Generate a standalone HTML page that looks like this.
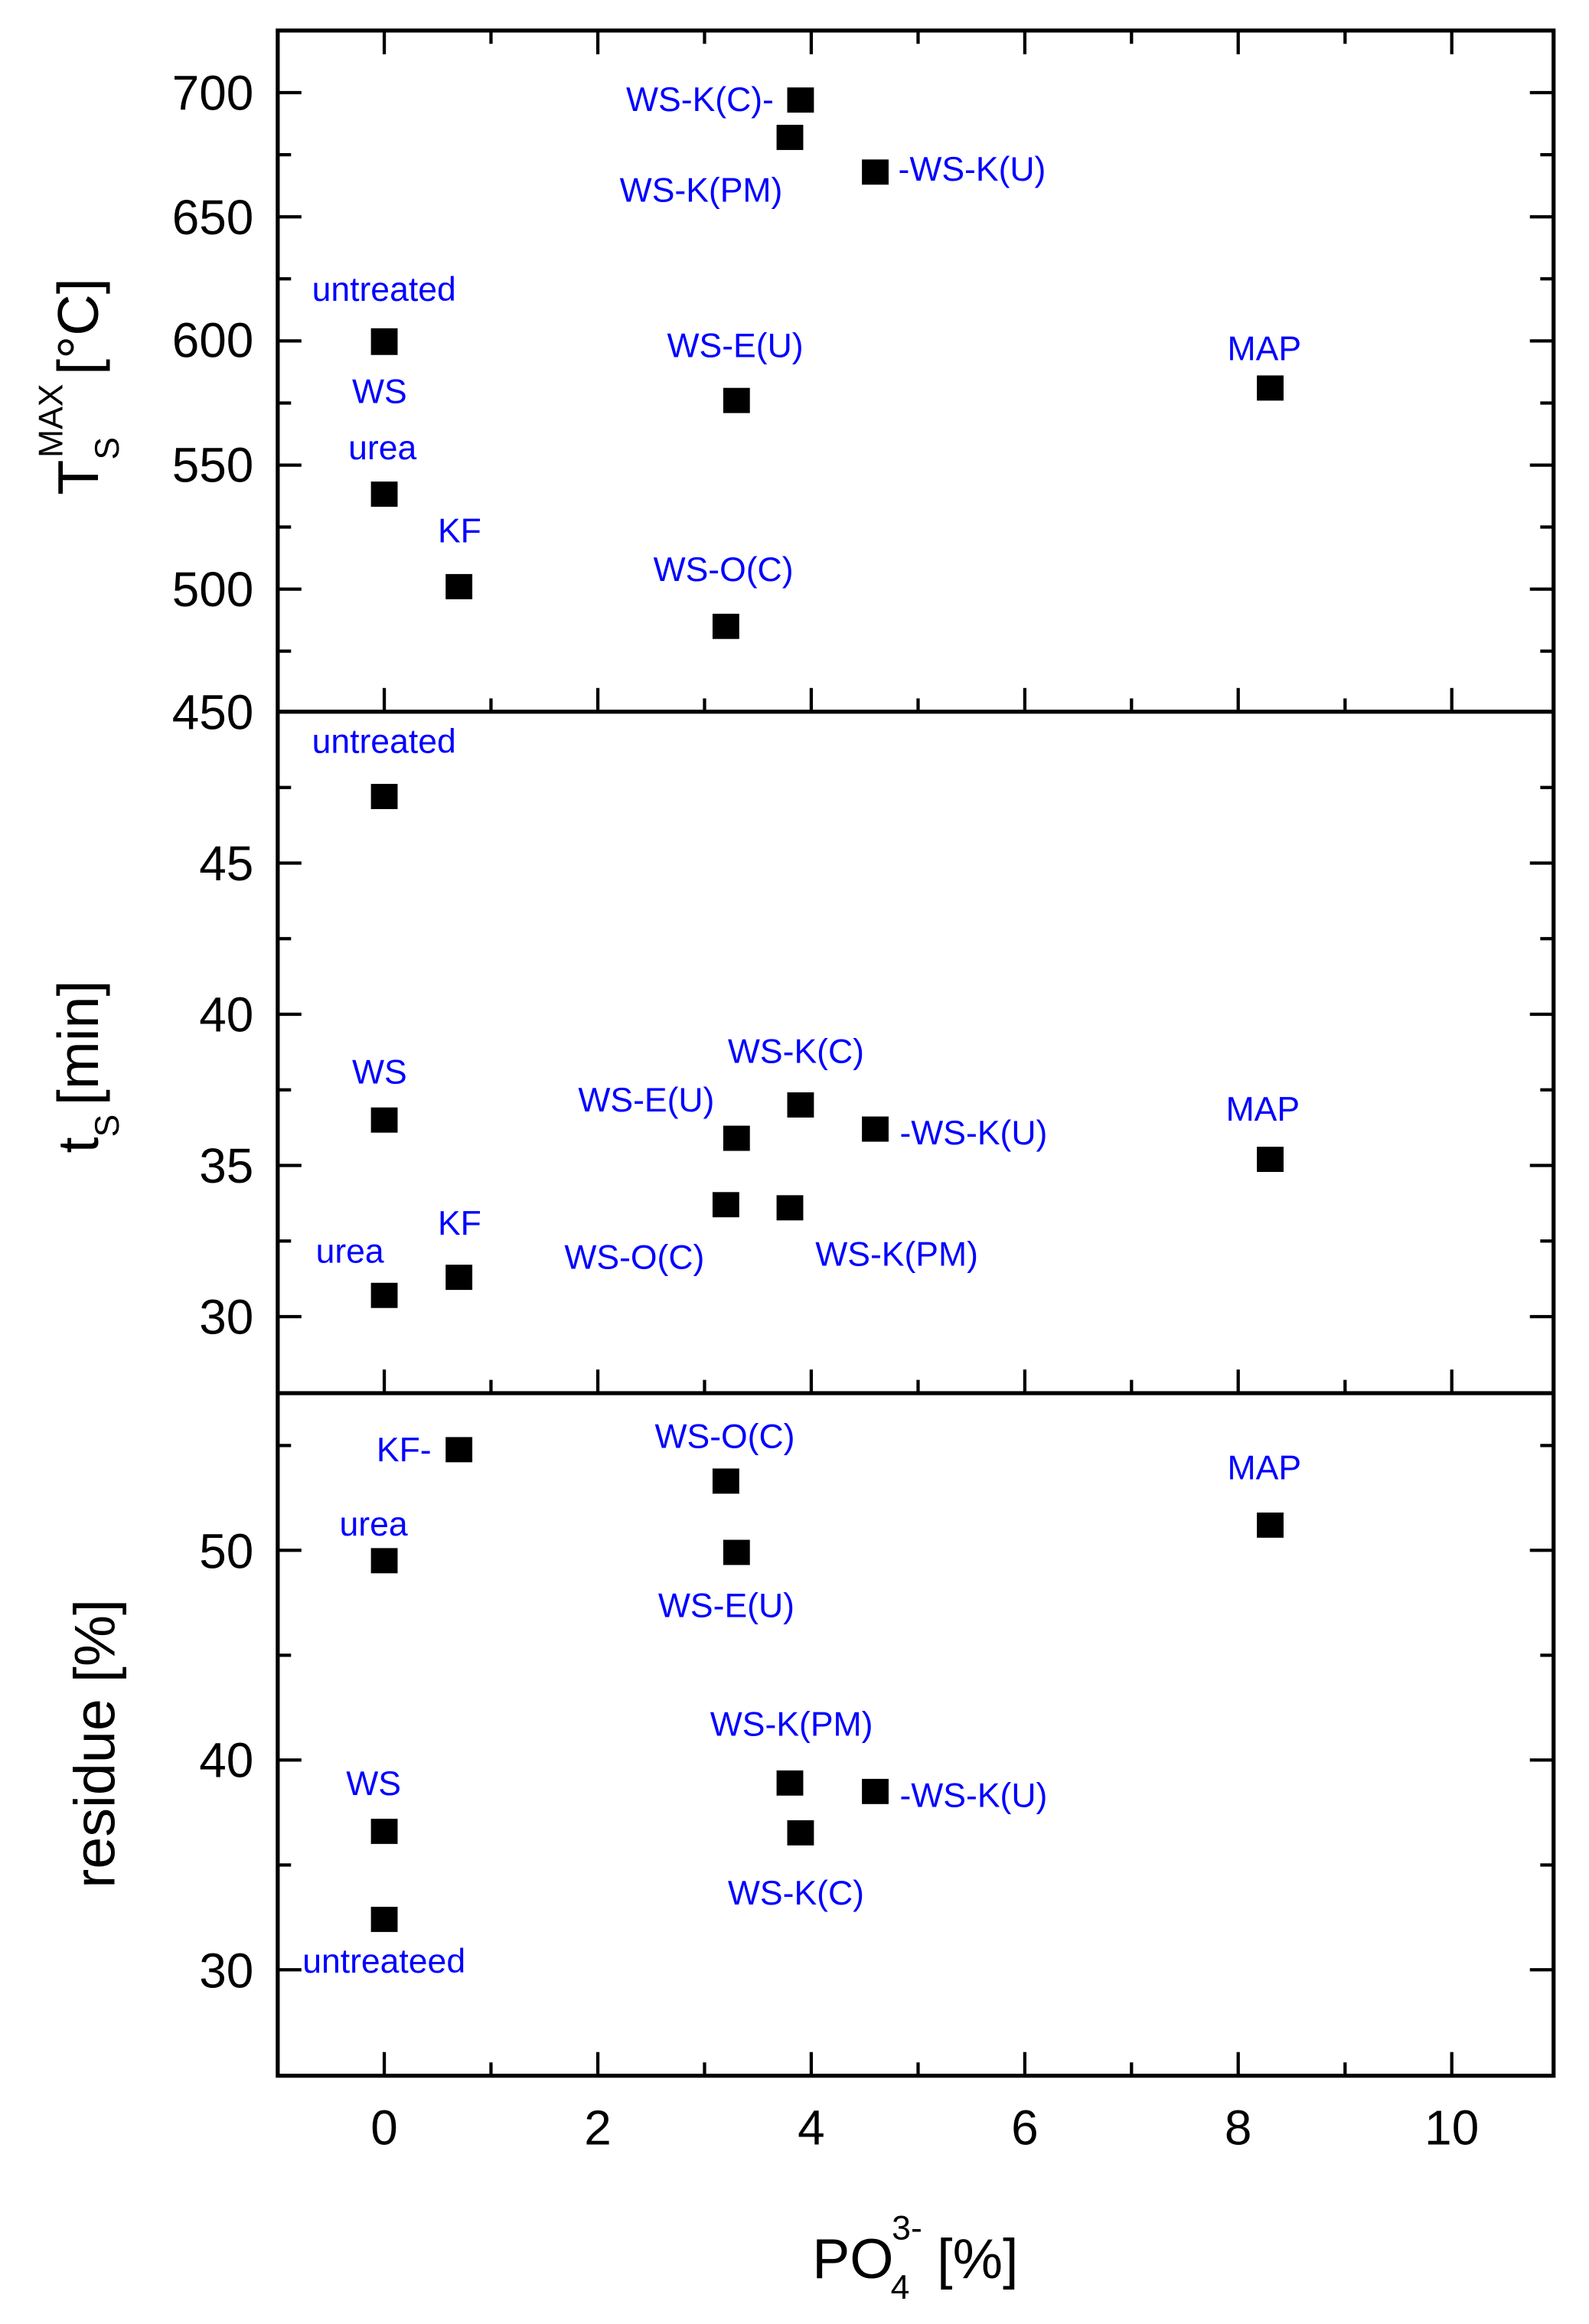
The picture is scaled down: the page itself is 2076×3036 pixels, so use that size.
<!DOCTYPE html>
<html><head><meta charset="utf-8"><style>html,body{margin:0;padding:0;background:#fff}svg{display:block}</style></head>
<body>
<svg width="2076" height="3036" viewBox="0 0 1072 1568" xmlns="http://www.w3.org/2000/svg" font-family="'Liberation Sans', sans-serif">
<rect width="1072" height="1568" fill="#fff"/>
<g stroke="#000" stroke-width="2.2" fill="none">
<path d="M259.2 20.6v16M403.3 20.6v16M547.3 20.6v16M691.4 20.6v16M835.4 20.6v16M979.5 20.6v16M331.2 20.6v9M475.3 20.6v9M619.4 20.6v9M763.4 20.6v9M907.5 20.6v9"/>
<path d="M259.2 480.2v-16M403.3 480.2v-16M547.3 480.2v-16M691.4 480.2v-16M835.4 480.2v-16M979.5 480.2v-16M331.2 480.2v-9M475.3 480.2v-9M619.4 480.2v-9M763.4 480.2v-9M907.5 480.2v-9"/>
<path d="M259.2 940v-16M403.3 940v-16M547.3 940v-16M691.4 940v-16M835.4 940v-16M979.5 940v-16M331.2 940v-9M475.3 940v-9M619.4 940v-9M763.4 940v-9M907.5 940v-9"/>
<path d="M259.2 1400.5v-16M403.3 1400.5v-16M547.3 1400.5v-16M691.4 1400.5v-16M835.4 1400.5v-16M979.5 1400.5v-16M331.2 1400.5v-9M475.3 1400.5v-9M619.4 1400.5v-9M763.4 1400.5v-9M907.5 1400.5v-9"/>
<path d="M187.3 62.5h16M187.3 146.3h16M187.3 230h16M187.3 313.8h16M187.3 397.5h16M187.3 104.4h9M187.3 188.1h9M187.3 271.9h9M187.3 355.6h9M187.3 439.3h9"/>
<path d="M1048.2 62.5h-16M1048.2 146.3h-16M1048.2 230h-16M1048.2 313.8h-16M1048.2 397.5h-16M1048.2 104.4h-9M1048.2 188.1h-9M1048.2 271.9h-9M1048.2 355.6h-9M1048.2 439.3h-9"/>
<path d="M187.3 582.3h16M187.3 684.3h16M187.3 786.3h16M187.3 888.3h16M187.3 531.3h9M187.3 633.3h9M187.3 735.3h9M187.3 837.3h9"/>
<path d="M1048.2 582.3h-16M1048.2 684.3h-16M1048.2 786.3h-16M1048.2 888.3h-16M1048.2 531.3h-9M1048.2 633.3h-9M1048.2 735.3h-9M1048.2 837.3h-9"/>
<path d="M187.3 1046h16M187.3 1187.5h16M187.3 1329h16M187.3 975.3h9M187.3 1116.8h9M187.3 1258.3h9"/>
<path d="M1048.2 1046h-16M1048.2 1187.5h-16M1048.2 1329h-16M1048.2 975.3h-9M1048.2 1116.8h-9M1048.2 1258.3h-9"/>
</g>
<g stroke="#000" stroke-width="2.7" fill="none">
<rect x="187.3" y="20.6" width="860.9" height="1379.9"/>
<path d="M187.3 480.2H1048.2M187.3 940H1048.2"/>
</g>
<g font-size="33" fill="#000" text-anchor="end">
<text x="171" y="74">700</text><text x="171" y="158">650</text><text x="171" y="241">600</text><text x="171" y="325">550</text><text x="171" y="409">500</text><text x="171" y="492">450</text>
<text x="171" y="594">45</text><text x="171" y="696">40</text><text x="171" y="798">35</text><text x="171" y="900">30</text>
<text x="171" y="1058">50</text><text x="171" y="1199">40</text><text x="171" y="1341">30</text>
</g>
<g font-size="33" fill="#000" text-anchor="middle">
<text x="259.2" y="1447">0</text><text x="403.3" y="1447">2</text><text x="547.3" y="1447">4</text><text x="691.4" y="1447">6</text><text x="835.4" y="1447">8</text><text x="979.5" y="1447">10</text>
</g>
<text x="548" y="1537" font-size="38" fill="#000">PO<tspan font-size="23" dx="-2" dy="14">4</tspan><tspan font-size="23" dx="-12" dy="-40">3-</tspan><tspan font-size="38" dx="10" dy="26">[%]</tspan></text>
<text transform="translate(66,334) rotate(-90)" font-size="39" fill="#000">T<tspan font-size="23" dy="14">S</tspan><tspan font-size="23" dx="-14" dy="-38">MAX</tspan><tspan font-size="39" dx="6" dy="24">[°C]</tspan></text>
<text transform="translate(66,778) rotate(-90)" font-size="39" fill="#000">t<tspan font-size="23" dy="14">S</tspan><tspan font-size="39" dx="6" dy="-14">[min]</tspan></text>
<text transform="translate(77,1274) rotate(-90)" font-size="39" fill="#000">residue [%]</text>
<g fill="#000">
<rect x="250.2" y="221.5" width="18" height="18"/>
<rect x="250.2" y="324.9" width="18" height="17"/>
<rect x="300.6" y="387.3" width="18" height="17"/>
<rect x="480.7" y="414.1" width="18" height="17"/>
<rect x="487.9" y="261.7" width="18" height="17"/>
<rect x="523.9" y="84.2" width="18" height="17"/>
<rect x="531.1" y="59" width="18" height="17"/>
<rect x="581.5" y="107.6" width="18" height="17"/>
<rect x="848" y="253.3" width="18" height="17"/>

<rect x="250.2" y="528.9" width="18" height="17"/>
<rect x="250.2" y="747.2" width="18" height="17"/>
<rect x="250.2" y="865.5" width="18" height="17"/>
<rect x="300.6" y="853.3" width="18" height="17"/>
<rect x="480.7" y="804.3" width="18" height="17"/>
<rect x="487.9" y="759.5" width="18" height="17"/>
<rect x="523.9" y="806.4" width="18" height="17"/>
<rect x="531.1" y="737" width="18" height="17"/>
<rect x="581.5" y="753.3" width="18" height="17"/>
<rect x="848" y="773.7" width="18" height="17"/>

<rect x="300.6" y="969.6" width="18" height="17"/>
<rect x="250.2" y="1044.5" width="18" height="17"/>
<rect x="250.2" y="1227.1" width="18" height="17"/>
<rect x="250.2" y="1286.5" width="18" height="17"/>
<rect x="480.7" y="990.8" width="18" height="17"/>
<rect x="487.9" y="1038.9" width="18" height="17"/>
<rect x="523.9" y="1194.5" width="18" height="17"/>
<rect x="531.1" y="1228.1" width="18" height="17"/>
<rect x="581.5" y="1200.2" width="18" height="17"/>
<rect x="848" y="1020.5" width="18" height="17"/>
</g>
<g font-size="23" fill="#0000ff" text-anchor="middle">
<text x="522" y="75" text-anchor="end">WS-K(C)-</text>
<text x="473" y="136">WS-K(PM)</text>
<text x="606" y="122" text-anchor="start">-WS-K(U)</text>
<text x="259" y="203">untreated</text>
<text x="256" y="272">WS</text>
<text x="258" y="310">urea</text>
<text x="310" y="366">KF</text>
<text x="488" y="392">WS-O(C)</text>
<text x="496" y="241">WS-E(U)</text>
<text x="853" y="243">MAP</text>

<text x="259" y="508">untreated</text>
<text x="256" y="731">WS</text>
<text x="236" y="852">urea</text>
<text x="310" y="833">KF</text>
<text x="428" y="856">WS-O(C)</text>
<text x="436" y="750">WS-E(U)</text>
<text x="537" y="717">WS-K(C)</text>
<text x="605" y="854">WS-K(PM)</text>
<text x="607" y="772" text-anchor="start">-WS-K(U)</text>
<text x="852" y="756">MAP</text>

<text x="291" y="986" text-anchor="end">KF-</text>
<text x="489" y="977">WS-O(C)</text>
<text x="252" y="1036">urea</text>
<text x="490" y="1091">WS-E(U)</text>
<text x="853" y="998">MAP</text>
<text x="534" y="1171">WS-K(PM)</text>
<text x="607" y="1219" text-anchor="start">-WS-K(U)</text>
<text x="252" y="1211">WS</text>
<text x="537" y="1285">WS-K(C)</text>
<text x="259" y="1331">untreateed</text>
</g>
</svg>
</body></html>
